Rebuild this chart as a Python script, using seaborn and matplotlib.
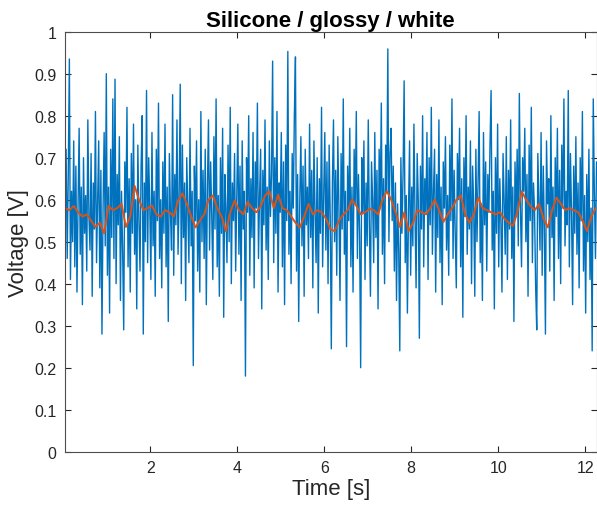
import numpy as np
import pandas as pd
import matplotlib
matplotlib.use("Agg")
import matplotlib.pyplot as plt
import seaborn as sns

# raw voltage samples (approx. 0.025 s apart)
raw_voltage = [
    0.55, 0.72, 0.46, 0.66, 0.935, 0.41, 0.62, 0.50, 0.74, 0.44,
    0.68, 0.38, 0.59, 0.77, 0.47, 0.63, 0.35, 0.70, 0.52, 0.61,
    0.43, 0.79, 0.56, 0.48, 0.71, 0.37, 0.64, 0.53, 0.81, 0.45,
    0.60, 0.74, 0.39, 0.67, 0.28, 0.58, 0.76, 0.49, 0.90, 0.42,
    0.63, 0.33, 0.72, 0.51, 0.84, 0.46, 0.887, 0.40, 0.66, 0.54,
    0.75, 0.36, 0.62, 0.48, 0.29, 0.69, 0.57, 0.82, 0.44, 0.65,
    0.38, 0.71, 0.52, 0.78, 0.47, 0.60, 0.34, 0.73, 0.55, 0.43,
    0.68, 0.80, 0.28, 0.64, 0.50, 0.86, 0.45, 0.70, 0.58, 0.41,
    0.76, 0.49, 0.62, 0.37, 0.72, 0.55, 0.83, 0.46, 0.60, 0.39,
    0.69, 0.52, 0.78, 0.44, 0.63, 0.31, 0.71, 0.57, 0.48, 0.85,
    0.42, 0.66, 0.54, 0.79, 0.47, 0.61, 0.875, 0.40, 0.73, 0.51,
    0.64, 0.36, 0.70, 0.58, 0.45, 0.77, 0.49, 0.62, 0.205, 0.68,
    0.55, 0.74, 0.43, 0.60, 0.38, 0.81, 0.50, 0.67, 0.46, 0.72,
    0.35, 0.63, 0.79, 0.48, 0.69, 0.56, 0.41, 0.75, 0.53, 0.84,
    0.44, 0.61, 0.37, 0.70, 0.52, 0.77, 0.32, 0.66, 0.58, 0.45,
    0.73, 0.50, 0.82, 0.40, 0.64, 0.55, 0.71, 0.43, 0.60, 0.78,
    0.47, 0.68, 0.36, 0.74, 0.53, 0.62, 0.18, 0.70, 0.57, 0.80,
    0.42, 0.65, 0.51, 0.76, 0.39, 0.69, 0.58, 0.83, 0.46, 0.61,
    0.72, 0.34, 0.67, 0.54, 0.79, 0.48, 0.63, 0.41, 0.74, 0.56,
    0.66, 0.93, 0.45, 0.70, 0.52, 0.81, 0.38, 0.64, 0.57, 0.76,
    0.44, 0.69, 0.35, 0.73, 0.55, 0.953, 0.47, 0.62, 0.40, 0.71,
    0.58, 0.80, 0.94, 0.43, 0.66, 0.31, 0.60, 0.75, 0.49, 0.68,
    0.37, 0.72, 0.54, 0.63, 0.46, 0.78, 0.51, 0.67, 0.39, 0.74,
    0.57, 0.45, 0.70, 0.33, 0.65, 0.52, 0.82, 0.44, 0.61, 0.76,
    0.48, 0.69, 0.40, 0.73, 0.56, 0.245, 0.64, 0.79, 0.50, 0.67,
    0.42, 0.75, 0.58, 0.36, 0.71, 0.53, 0.84, 0.47, 0.62, 0.25,
    0.68, 0.55, 0.77, 0.44, 0.63, 0.38, 0.72, 0.59, 0.81, 0.46,
    0.66, 0.52, 0.20, 0.70, 0.57, 0.74, 0.41, 0.64, 0.49, 0.79,
    0.54, 0.37, 0.69, 0.60, 0.45, 0.76, 0.51, 0.67, 0.34, 0.72,
    0.58, 0.83, 0.47, 0.65, 0.40, 0.73, 0.62, 0.959, 0.50, 0.71,
    0.77, 0.55, 0.68, 0.43, 0.64, 0.36, 0.59, 0.48, 0.24, 0.70,
    0.52, 0.66, 0.883, 0.45, 0.61, 0.33, 0.57, 0.74, 0.42, 0.63,
    0.49, 0.78, 0.56, 0.39, 0.71, 0.60, 0.27, 0.68, 0.53, 0.80,
    0.44, 0.65, 0.57, 0.76, 0.41, 0.70, 0.54, 0.82, 0.47, 0.62,
    0.72, 0.38, 0.66, 0.51, 0.79, 0.45, 0.63, 0.35, 0.69, 0.58,
    0.75, 0.48, 0.61, 0.42, 0.73, 0.55, 0.84, 0.46, 0.67, 0.52,
    0.39, 0.71, 0.60, 0.77, 0.44, 0.65, 0.32, 0.70, 0.56, 0.80,
    0.47, 0.63, 0.53, 0.74, 0.40, 0.68, 0.58, 0.37, 0.72, 0.50,
    0.64, 0.81, 0.45, 0.59, 0.36, 0.76, 0.54, 0.69, 0.43, 0.66,
    0.57, 0.73, 0.86, 0.48, 0.62, 0.34, 0.70, 0.52, 0.78, 0.44,
    0.65, 0.55, 0.38, 0.71, 0.60, 0.47, 0.75, 0.41, 0.67, 0.53,
    0.79, 0.46, 0.63, 0.31, 0.69, 0.56, 0.72, 0.49, 0.853, 0.58,
    0.44, 0.70, 0.62, 0.77, 0.50, 0.66, 0.37, 0.73, 0.55, 0.82,
    0.45, 0.64, 0.57, 0.39, 0.29, 0.71, 0.60, 0.48, 0.76, 0.42,
    0.68, 0.53, 0.28, 0.74, 0.59, 0.65, 0.43, 0.80, 0.51, 0.63,
    0.36, 0.70, 0.56, 0.77, 0.46, 0.67, 0.40, 0.73, 0.58, 0.84,
    0.49, 0.62, 0.54, 0.86, 0.44, 0.71, 0.57, 0.35, 0.68, 0.52,
    0.75, 0.47, 0.64, 0.39, 0.70, 0.55, 0.81, 0.43, 0.61, 0.33,
    0.66, 0.50, 0.72, 0.41, 0.58, 0.24, 0.84, 0.62, 0.46, 0.69,
]

# smoothed voltage (approx. 0.1 s apart)
smooth_voltage = [
    0.58, 0.575, 0.585, 0.57, 0.56, 0.565, 0.55, 0.535, 0.545, 0.52,
    0.585, 0.575, 0.58, 0.59, 0.535, 0.56, 0.633, 0.60, 0.575, 0.58,
    0.586, 0.565, 0.56, 0.575, 0.57, 0.56, 0.598, 0.615, 0.59, 0.56,
    0.534, 0.55, 0.565, 0.60, 0.61, 0.58, 0.56, 0.525, 0.57, 0.598,
    0.575, 0.565, 0.595, 0.58, 0.57, 0.585, 0.61, 0.62, 0.58, 0.612,
    0.58, 0.575, 0.56, 0.545, 0.534, 0.56, 0.59, 0.565, 0.575, 0.57,
    0.555, 0.53, 0.525, 0.55, 0.565, 0.575, 0.60, 0.585, 0.565, 0.57,
    0.578, 0.575, 0.565, 0.60, 0.62, 0.60, 0.57, 0.535, 0.57, 0.525,
    0.545, 0.575, 0.57, 0.565, 0.58, 0.60, 0.575, 0.547, 0.565, 0.58,
    0.60, 0.61, 0.565, 0.545, 0.565, 0.605, 0.58, 0.575, 0.57, 0.565,
    0.57, 0.555, 0.545, 0.538, 0.57, 0.62, 0.60, 0.585, 0.575, 0.59,
    0.555, 0.534, 0.575, 0.605, 0.59, 0.575, 0.58, 0.575, 0.57, 0.55,
    0.525, 0.56, 0.58,
]

t_start, t_end = 0.04, 12.26
x_ticks = [2, 4, 6, 8, 10, 12]
y_ticks = [round(v * 0.1, 1) for v in range(11)]

raw = pd.DataFrame({"time": np.linspace(t_start, t_end, len(raw_voltage)), "voltage": raw_voltage})
smooth = pd.DataFrame({"time": np.linspace(t_start, t_end - 0.02, len(smooth_voltage)), "voltage": smooth_voltage})

sns.set_theme(style="white")
plt.rcParams["font.family"] = ["Liberation Sans", "DejaVu Sans"]

fig = plt.figure(figsize=(5.97, 5.10), dpi=100)
ax = fig.add_axes([0.1089, 0.1124, 0.8903, 0.8235])

sns.lineplot(data=raw, x="time", y="voltage", ax=ax, color="#0072BD", linewidth=1.0, estimator=None)
sns.lineplot(data=smooth, x="time", y="voltage", ax=ax, color="#D95319", linewidth=1.4, estimator=None)

ax.set_xlim(t_start, t_end)
ax.set_ylim(0, 1)
ax.set_xticks(x_ticks)
ax.set_yticks(y_ticks)
ax.set_yticklabels([f"{v:g}" for v in y_ticks])
ax.tick_params(direction="in", length=4, width=0.8, colors="#262626", labelsize=11.5,
               top=True, right=True, bottom=True, left=True, pad=6)
for s in ax.spines.values():
    s.set_visible(True)
    s.set_color("#4d4d4d")
    s.set_linewidth(0.8)

ax.set_xlabel("Time [s]", fontsize=16, color="#262626", labelpad=2)
ax.set_ylabel("Voltage [V]", fontsize=16, color="#262626", labelpad=4)
ax.set_title("Silicone / glossy / white", fontsize=16, fontweight="bold", color="black", pad=4)
ax.grid(False)

fig.savefig("out.png", dpi=100)
